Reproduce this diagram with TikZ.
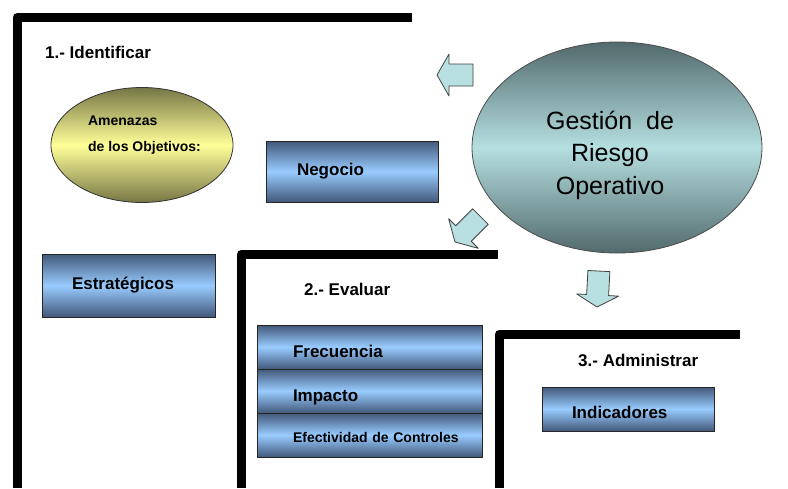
\documentclass[tikz,border=0pt]{standalone}
\usepackage{fontspec}
\setmainfont{Liberation Sans}
\usepackage{tikz}
\usetikzlibrary{positioning,shapes.geometric}
\definecolor{cajaoscura}{RGB}{66,88,122}
\definecolor{cajaclara}{RGB}{153,204,255}
\definecolor{amaoscuro}{RGB}{118,118,70}
\definecolor{amaclaro}{RGB}{255,255,153}
\definecolor{gesoscuro}{RGB}{82,106,108}
\definecolor{gesclaro}{RGB}{181,223,225}
\definecolor{flechaclara}{RGB}{184,224,224}
\newcommand{\flechabloque}[2]{\draw[flecha,shift={#1},rotate=#2] (0,0) -- (-12,21) -- (-12,11) -- (-36,11) -- (-36,-11) -- (-12,-11) -- (-12,-21) -- cycle;}

\begin{document}
\begin{tikzpicture}[x=1pt,y=-1pt,node distance=0pt,
 marco/.style={line width=9pt,line join=round},
 titulo/.style={anchor=base west,inner xsep=0pt,font=\fontsize{17}{20}\selectfont\bfseries},
 caja/.style={rectangle,draw=black!85,line width=0.8pt,outer sep=0pt,inner ysep=0pt,
   top color=cajaoscura,bottom color=cajaoscura,middle color=cajaclara,
   align=left,font=\fontsize{17}{20}\selectfont\bfseries,text height=12pt,text depth=3.5pt},
 fila/.style={caja,inner xsep=36pt,text width=153pt,minimum height=44pt,text height=20pt,text depth=0pt},
 flecha/.style={draw=black!75,line width=0.8pt,fill=flechaclara,line join=round}]
\useasboundingbox (0,0) rectangle (788,488);
% marcos de las etapas
\draw[marco] (17,488) -- (17,17) -- (412,17);
\draw[marco] (241,488) -- (241,254) -- (498,254);
\draw[marco] (499,488) -- (499,334) -- (740,334);
\node[titulo] (identificar) at (45,58.5) {1.- Identificar};
\node[titulo] (evaluar) at (304,295) {2.- Evaluar};
\node[titulo] (administrar) at (578,366.5) {3.- Administrar};
% identificar
\node[ellipse,draw=black!80,line width=0.8pt,minimum width=182pt,minimum height=115pt,inner sep=0pt,
  top color=amaoscuro,bottom color=amaoscuro,middle color=amaclaro,
  font=\fontsize{14}{16.8}\selectfont\bfseries,text height=12pt,text depth=52pt] (amenazas) at (142,145)
  {\begin{tabular}[t]{@{\hspace{5pt}}l@{}}Amenazas\\[10pt]de los Objetivos:\end{tabular}};
\node[caja,inner xsep=31pt,text width=110pt,minimum height=61pt] (negocio) at (352,171.5) {Negocio};
\node[caja,inner xsep=30pt,text width=113pt,minimum height=63pt] (estrategicos) at (128.5,285.5) {Estratégicos};
% evaluar
\node[fila] (frecuencia) at (369.5,347) {Frecuencia};
\node[fila,below=of frecuencia] (impacto) {Impacto};
\node[fila,below=of impacto,inner xsep=18pt,text width=189pt,text height=14pt,
  font=\fontsize{14}{16.8}\selectfont\bfseries] (efectividad) {\hspace*{18pt}Efectividad de Controles};
% administrar
\node[caja,inner xsep=30pt,text width=112pt,minimum height=44pt,text height=18pt,text depth=0pt] (indicadores) at (628,409) {Indicadores};
% gestion
\node[ellipse,draw=black!70,line width=0.8pt,minimum width=290pt,minimum height=211pt,inner sep=0pt,
  top color=gesoscuro,bottom color=gesoscuro,middle color=gesclaro,
  font=\fontsize{25}{30}\selectfont,text height=21pt,text depth=58pt] (gestion) at (617,147.5)
  {\begin{tabular}[t]{@{}c@{\hspace{14pt}}}Gestión~~de\\[2.5pt]Riesgo\\[2.5pt]Operativo\end{tabular}};
\flechabloque{(437,75)}{180}
\flechabloque{(455,242)}{225}
\flechabloque{(597,307)}{267}
\end{tikzpicture}
\end{document}
